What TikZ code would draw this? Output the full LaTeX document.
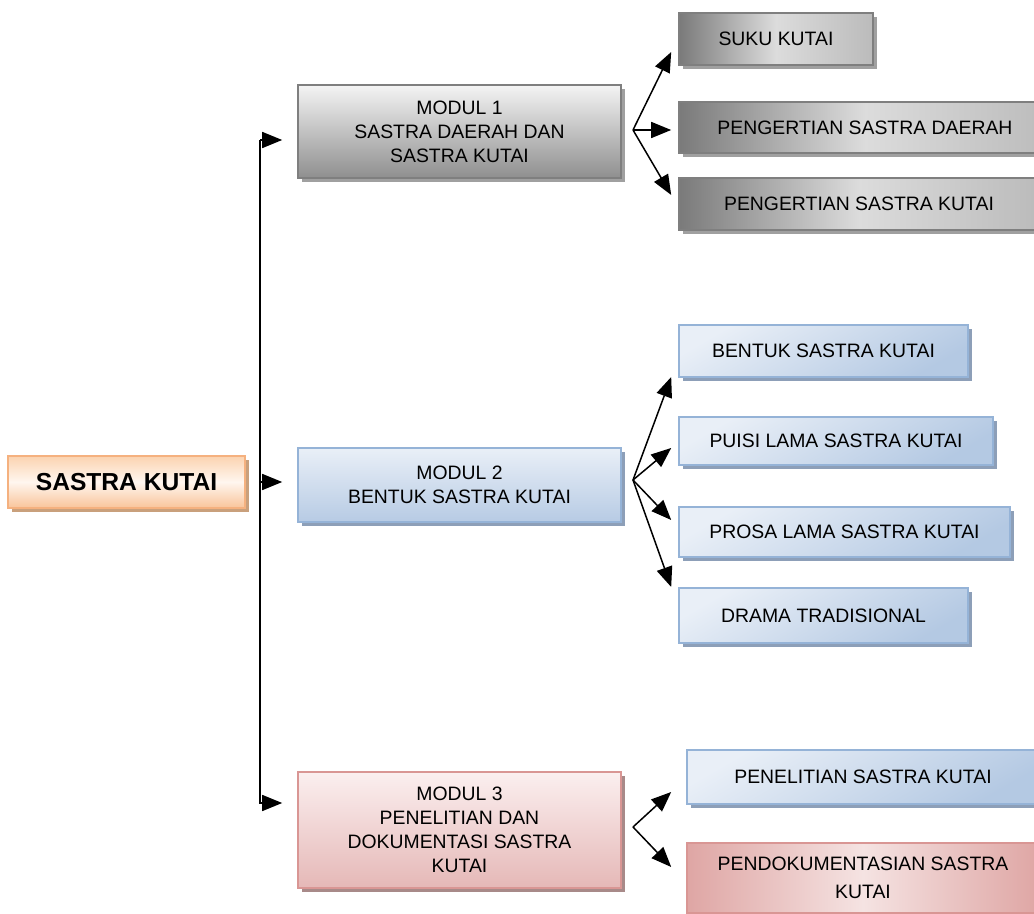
\documentclass[tikz,border=0pt]{standalone}
\usepackage{fontspec}
\setmainfont{Liberation Sans}
\usetikzlibrary{arrows.meta,shadows}
\definecolor{PeachEdge}{HTML}{F5B17F}
\definecolor{PeachTop}{HTML}{FBD3B0}
\definecolor{PeachMid}{HTML}{FFF6EF}
\definecolor{PeachBottom}{HTML}{F9C49A}
\definecolor{PeachShadow}{HTML}{C9A07C}
\definecolor{GrayEdge}{HTML}{7F7F7F}
\definecolor{GrayTop}{HTML}{F4F4F4}
\definecolor{GrayBottom}{HTML}{8F8F8F}
\definecolor{MetalDark}{HTML}{7A7A7A}
\definecolor{MetalLight}{HTML}{DCDCDC}
\definecolor{GrayShadow}{HTML}{A0A0A0}
\definecolor{BlueEdge}{HTML}{95B3D7}
\definecolor{BlueTop}{HTML}{E9EFF7}
\definecolor{BlueBottom}{HTML}{B7CBE4}
\definecolor{BlueShadow}{HTML}{8D9FB8}
\definecolor{RoseEdge}{HTML}{D99694}
\definecolor{RoseTop}{HTML}{FBEFEF}
\definecolor{RoseBottom}{HTML}{E5B8B7}
\definecolor{RoseLight}{HTML}{F5E3E2}
\definecolor{RoseShadow}{HTML}{A88A89}

\begin{document}
\begin{tikzpicture}[
      x=0.5pt, y=-0.5pt,
      box/.style={
        draw,
        line width=0.8pt,
        inner sep=2pt,
        align=center,
        font=\fontsize{9.7}{12}\selectfont
      },
      rootbox/.style={
        box, draw=PeachEdge,
        top color=PeachTop, bottom color=PeachBottom, middle color=PeachMid,
        font=\bfseries\fontsize{12.3}{14}\selectfont,
        general shadow={fill=PeachShadow, shadow xshift=2pt, shadow yshift=-2pt}
      },
      grayModul/.style={
        box, draw=GrayEdge,
        top color=GrayTop, bottom color=GrayBottom,
        general shadow={fill=GrayShadow, shadow xshift=2pt, shadow yshift=-2pt}
      },
      metal/.style={
        box, draw=GrayEdge,
        left color=MetalDark, right color=MetalLight!85!black, middle color=MetalLight,
        general shadow={fill=GrayShadow, shadow xshift=2pt, shadow yshift=-2pt}
      },
      blueModul/.style={
        box, draw=BlueEdge,
        top color=BlueTop, bottom color=BlueBottom,
        general shadow={fill=BlueShadow, shadow xshift=2pt, shadow yshift=-2pt}
      },
      blueItem/.style={
        box, draw=BlueEdge,
        top color=BlueTop, bottom color=BlueBottom!90!BlueEdge, shading angle=30,
        general shadow={fill=BlueShadow, shadow xshift=2pt, shadow yshift=-2pt}
      },
      roseModul/.style={
        box, draw=RoseEdge,
        top color=RoseTop, bottom color=RoseBottom,
        general shadow={fill=RoseShadow, shadow xshift=2pt, shadow yshift=-2pt}
      },
      roseItem/.style={
        box, draw=RoseEdge,
        left color=RoseEdge!85!white, right color=RoseEdge!85!white, middle color=RoseLight,
        general shadow={fill=RoseShadow, shadow xshift=2pt, shadow yshift=-2pt}
      },
      flow/.style={-{Triangle[length=10pt,width=8pt]}, line width=0.75pt}
    ]
      \useasboundingbox (0,0) rectangle (1034,914);

      \node[rootbox, minimum width=118.5pt, minimum height=26pt] (kutai) at (126.5,482) {SASTRA KUTAI};

      \node[grayModul, minimum width=161.5pt, minimum height=46.5pt] (modul1) at (459.5,131.5)
        {MODUL 1\\SASTRA DAERAH DAN\\SASTRA KUTAI};
      \node[blueModul, minimum width=161.5pt, minimum height=37pt] (modul2) at (459.5,485)
        {MODUL 2\\BENTUK SASTRA KUTAI};
      \node[roseModul, minimum width=161.5pt, minimum height=58pt] (modul3) at (459.5,830)
        {MODUL 3\\PENELITIAN DAN\\DOKUMENTASI SASTRA\\KUTAI};

      \node[metal, minimum width=97pt, minimum height=26pt] (suku) at (776,39) {SUKU KUTAI};
      \node[metal, minimum width=186pt, minimum height=25.5pt] (pengDaerah) at (865,127.5) {PENGERTIAN SASTRA DAERAH};
      \node[metal, minimum width=180pt, minimum height=26pt] (pengKutai) at (859,204) {PENGERTIAN SASTRA KUTAI};

      \node[blueItem, minimum width=144.5pt, minimum height=26pt] (bentuk) at (823.5,351) {BENTUK SASTRA KUTAI};
      \node[blueItem, minimum width=157pt, minimum height=24pt] (puisi) at (836,441) {PUISI LAMA SASTRA KUTAI};
      \node[blueItem, minimum width=165.5pt, minimum height=25pt] (prosa) at (844.5,532) {PROSA LAMA SASTRA KUTAI};
      \node[blueItem, minimum width=144.5pt, minimum height=27.5pt] (drama) at (823.5,615.5) {DRAMA TRADISIONAL};

      \node[blueItem, minimum width=176pt, minimum height=27pt] (penelitian) at (863,777) {PENELITIAN SASTRA KUTAI};
      \node[roseItem, minimum width=176pt, minimum height=35pt, font=\fontsize{9.7}{14}\selectfont] (dokumentasi) at (863,878)
        {PENDOKUMENTASIAN SASTRA\\KUTAI};

      \coordinate (busTop) at (260,140);
      \coordinate (busBot) at (260,803);
      \coordinate (fan1) at (633,130);
      \coordinate (fan2) at (633,480);
      \coordinate (fan3) at (633,827);

      \draw[flow, shorten >=7.5pt] (busTop) -- (busBot) -- (busBot -| modul3.west);
      \draw[flow, shorten >=7.5pt] (busTop) -- (busTop -| modul1.west);
      \draw[flow, shorten >=7.5pt] (kutai.east -| busTop) -- (kutai.east -| modul2.west);

      \draw[flow] (fan1) -- ([xshift=-3.5pt,yshift=-6.5pt]suku.west);
      \draw[flow] (fan1) -- ([xshift=-3.5pt,yshift=-1.25pt]pengDaerah.west);
      \draw[flow] (fan1) -- ([xshift=-3.5pt,yshift=4.5pt]pengKutai.west);

      \draw[flow] (fan2) -- ([xshift=-3.5pt,yshift=-13pt]bentuk.west);
      \draw[flow] (fan2) -- ([xshift=-3.5pt,yshift=-3.5pt]puisi.west);
      \draw[flow] (fan2) -- ([xshift=-3.5pt,yshift=6pt]prosa.west);
      \draw[flow] (fan2) -- ([xshift=-3.5pt,yshift=14.25pt]drama.west);

      \draw[flow] (fan3) -- ([xshift=-7.5pt,yshift=-7.5pt]penelitian.west);
      \draw[flow] (fan3) -- ([xshift=-7.5pt,yshift=5.5pt]dokumentasi.west);
    \end{tikzpicture}
\end{document}
